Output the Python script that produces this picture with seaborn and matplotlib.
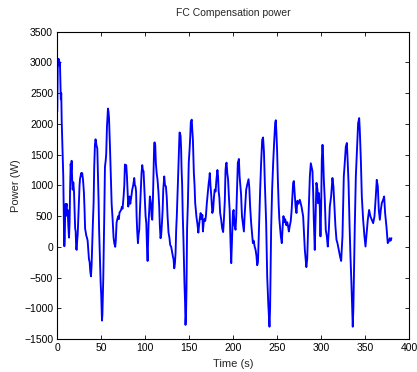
import matplotlib
matplotlib.use("Agg")
import matplotlib.pyplot as plt
import seaborn as sns
import pandas as pd

# time (s) and FC compensation power (W)
time_s = [
    0, 0.5, 1, 1.5, 2, 2.5, 3, 3.5, 4, 4.5, 5, 5.7, 6.8, 7.6, 8, 8.5, 9, 9.5, 10, 10.7,
    11.3, 11.8, 12.5, 13.3, 14, 14.5, 15.2, 15.8, 16.3, 16.9, 17.5, 18.2, 19, 19.6, 20.3, 20.9,
    21.5, 22, 22.6, 23.2, 24, 24.6, 25.3, 25.8, 26.5, 27.2, 27.7, 28.3, 29.2, 30.3, 31, 31.6,
    32.2, 33, 33.7, 34.5, 35.2, 36, 36.8, 37.5, 38.3, 39, 39.8, 40.5, 41.3, 42, 42.8, 43.5,
    44, 44.6, 45.5, 46.2, 47, 47.5, 48.1, 49.3, 50, 50.8, 51.3, 52.3, 53, 53.4, 54.2, 55,
    55.6, 56.5, 57.2, 57.6, 58.2, 58.8, 59.9, 61, 61.8, 62.9, 64, 64.8, 65.9, 66.5, 67.4, 68.3,
    69.3, 70, 70.8, 71.6, 72.5, 73.5, 74.2, 75.4, 76.2, 76.9, 77.6, 78.4, 79.2, 79.9, 80.7, 81.5,
    82.2, 83, 83.7, 84.5, 85.2, 86.3, 87.5, 88.2, 88.9, 89.6, 90.2, 90.8, 91.7, 92.4, 93.2, 94,
    95.1, 95.8, 96.6, 97.3, 98.1, 98.8, 99.6, 100.4, 101.2, 102, 102.7, 103.3, 103.8, 104.5, 105.3, 106.5,
    107.2, 108, 108.6, 109.1, 109.7, 110.2, 110.8, 111.4, 112.1, 113, 114, 115, 115.9, 116.6, 117.4, 118.2,
    119, 119.8, 120.5, 121.6, 122.5, 123.5, 124.5, 125.4, 126.5, 127.5, 128.4, 129.5, 130.5, 131.5, 132.2, 133,
    133.7, 134.5, 135.2, 135.9, 136.7, 137.3, 137.9, 138.5, 139, 139.6, 140.2, 140.8, 141.3, 142, 142.6, 143.5,
    144.6, 145.3, 145.8, 146.4, 146.9, 147.6, 148.5, 149.5, 150.5, 151.2, 151.8, 152.3, 152.9, 153.5, 154.2, 155.3,
    156.1, 156.8, 157.5, 158.3, 159.2, 160.4, 161.2, 162, 163, 164, 165, 165.6, 166.5, 167.2, 168.2, 169,
    170, 171, 172.2, 172.8, 173.4, 174.2, 175, 176.3, 177.2, 178.1, 179, 180, 181, 182.1, 182.8, 183.5,
    184.3, 185.2, 186.3, 187.5, 188.6, 189.5, 190.5, 191.3, 192, 192.5, 193.3, 194.2, 195.2, 196, 197, 197.8,
    198.6, 199.7, 200.5, 201.5, 202.7, 203.5, 204.3, 205.3, 206, 206.5, 207.3, 208.2, 209, 210, 211, 212.2,
    213, 213.8, 214.8, 215.8, 216.7, 217.5, 218.4, 219.3, 220.5, 221.5, 222.4, 223.3, 224.5, 225.5, 226.5, 227.3,
    228.2, 229, 229.8, 230.7, 231.8, 233, 234, 235, 236, 237.5, 238.7, 240, 241.3, 242, 243.2, 244.3,
    245.5, 246.6, 247.8, 248.5, 249.2, 250, 250.8, 251.7, 252.5, 253.4, 254.2, 255.3, 256.3, 257.2, 258.2, 259.2,
    260.5, 261.5, 262.5, 263.3, 264.5, 265.5, 266.5, 267.4, 268.2, 269, 270, 271, 272, 273, 274.2, 275.8,
    277.7, 279.6, 281.5, 283.2, 284.2, 285.3, 287.2, 288.3, 289.4, 290.2, 291, 291.7, 292.8, 293.6, 294.7, 295.9,
    296.6, 297.4, 298.5, 299.3, 300, 300.8, 301.6, 302.3, 303.1, 304.2, 305.3, 306.5, 307.6, 308.8, 309.9, 311.4,
    312.9, 314, 315.2, 316.3, 317.5, 318.6, 320.1, 321.6, 322.8, 324.3, 325.8, 326.6, 328.1, 329.3, 330, 331.2,
    332.3, 333.4, 334.5, 335.3, 336, 336.7, 337.5, 338.3, 339.5, 341, 342.1, 343.3, 344, 345.2, 346.3, 347.8,
    349.3, 350.5, 351.6, 353.1, 354.6, 356.1, 357.7, 359.2, 360.7, 362.2, 363.3, 364.5, 365.6, 366.8, 367.9, 369,
    370.5, 371.7, 372.8, 374.3, 375.8, 377, 378.1, 379, 380,
]
power_w = [
    2200, 2900, 3060, 3000, 3050, 2950, 3000, 2700, 2400, 2500, 2050, 1700, 1150, 280, 10, 150, 600, 700, 650, 700,
    500, 600, 350, 150, 400, 900, 1350, 1250, 1400, 1100, 930, 1050, 900, 600, 300, 250,
    -30, -50, 100, 200, 500, 700, 1000, 1100, 1150, 1200, 1150, 1200, 1100, 880, 600, 300,
    250, 180, 150, 100, -50, -200, -250, -400, -480, -300, 100, 400, 720, 1300, 1660, 1750,
    1700, 1650, 1600, 1200, 720, 300, 0, -590, -800, -1200, -1100, -500, 100, 490, 1300, 1400,
    1500, 1960, 2150, 2250, 2200, 2100, 1630, 1100, 700, 450, 150, 60, 0, 100, 390, 450,
    500, 450, 560, 575, 600, 650, 620, 820, 1000, 1340, 1300, 1330, 1150, 930, 655, 750,
    820, 700, 765, 850, 930, 1000, 1120, 1000, 985, 900, 500, 277, 60, 200, 277, 600,
    985, 1200, 1330, 1250, 1230, 1000, 710, 500, 385, 0, -230, 100, 385, 600, 820, 700,
    500, 440, 700, 985, 1400, 1690, 1700, 1650, 1360, 1200, 1090, 900, 655, 350, 140, 200,
    385, 600, 930, 1145, 1000, 985, 800, 495, 230, 150, 30, 0, -80, -160, -200, -350,
    -280, -100, 280, 500, 820, 1100, 1370, 1600, 1860, 1850, 1800, 1600, 1280, 1000, 550, 100,
    -590, -900, -1270, -1100, -700, 300, 700, 1370, 1600, 1800, 2020, 2050, 2070, 1900, 1750, 1200,
    1000, 715, 600, 480, 390, 230, 350, 450, 550, 450, 520, 250, 400, 450, 420, 500,
    700, 850, 1040, 1100, 1200, 1000, 850, 550, 600, 800, 930, 900, 1100, 1250, 1150, 900,
    800, 550, 450, 300, 240, 450, 750, 1250, 1350, 1370, 1200, 1100, 800, 600, 65, -265,
    100, 550, 600, 350, 277, 500, 900, 1370, 1400, 1430, 1150, 1000, 850, 500, 380, 250,
    500, 700, 930, 1000, 1050, 1100, 950, 650, 380, 200, 60, 100, 0, -50, -150, -300,
    -250, 100, 500, 930, 1370, 1740, 1780, 1550, 1050, 400, -480, -950, -1300, -1000, 300, 930,
    1370, 1700, 2020, 2060, 1850, 1550, 1100, 700, 450, 300, 170, 60, 330, 500, 400, 450,
    350, 400, 330, 250, 350, 420, 600, 850, 1040, 1070, 850, 650, 550, 750, 700, 765,
    655, 495, -50, -330, -200, 330, 1145, 1360, 1280, 1230, 875, 440, -50, 440, 1040, 930,
    710, 875, 655, 170, 600, 1415, 1660, 1470, 1090, 765, 277, 170, 5, 277, 655, 820,
    1120, 985, 655, 330, 114, 60, -50, -160, -230, 170, 1145, 1300, 1630, 1690, 1470, 1040,
    385, -160, -600, -1000, -1300, -1000, -300, 330, 1145, 1630, 2010, 2095, 1900, 1415, 820, 440,
    170, 5, 195, 440, 600, 495, 440, 385, 495, 820, 1090, 985, 600, 440, 600, 710,
    765, 820, 550, 330, 60, 90, 140, 100, 140,
]

df = pd.DataFrame({"time": time_s, "power": power_w})

sns.set_style("ticks")
plt.rcParams["font.family"] = ["Liberation Sans", "DejaVu Sans"]

fig = plt.figure(figsize=(4.17, 3.72), dpi=100)
ax = fig.add_axes([0.1374, 0.0887, 0.8435, 0.826])
sns.lineplot(data=df, x="time", y="power", color="#0000ff", linewidth=1.35, ax=ax, sort=False)

ax.set_xlim(0, 400)
ax.set_ylim(-1500, 3500)
ax.set_xticks(range(0, 401, 50))
ax.set_yticks(range(-1500, 3501, 500))
ax.tick_params(direction="in", length=3, width=0.6, labelsize=7.5, top=True, right=True,
               pad=3, colors="black")
for sp in ax.spines.values():
    sp.set_visible(True)
    sp.set_linewidth(0.8)
    sp.set_color("black")

ax.set_title("FC Compensation power", fontsize=7.5, pad=11)
ax.set_xlabel("Time (s)", fontsize=8, labelpad=4)
ax.set_ylabel("Power (W)", fontsize=8, labelpad=2)

fig.savefig("out.png", dpi=100)
